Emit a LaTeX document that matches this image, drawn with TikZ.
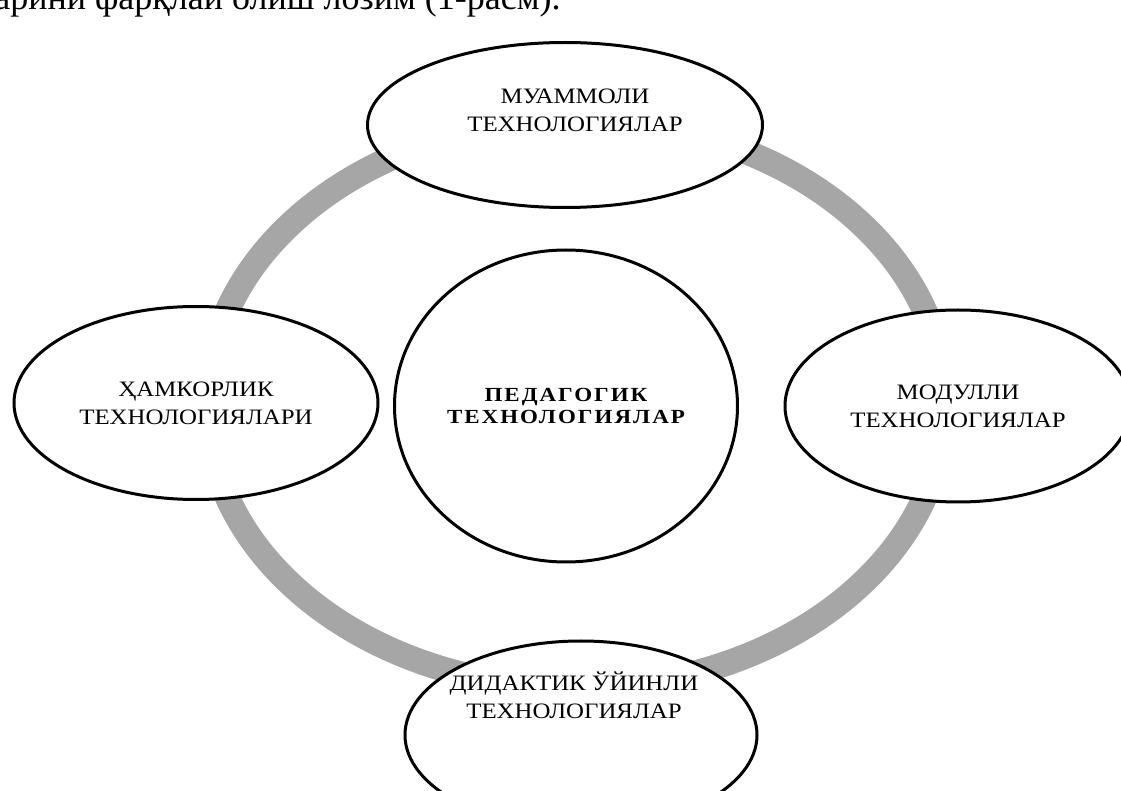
\documentclass[tikz,border=0pt]{standalone}
\usepackage{fontspec}
\setmainfont{Liberation Serif}
\newfontfamily\ovalfont[FakeStretch=1.13]{Liberation Serif}
\newfontfamily\hubfont[FakeStretch=1.15,LetterSpace=10]{Liberation Serif}
\usetikzlibrary{shapes.geometric}
\definecolor{ringgray}{RGB}{166,166,166}

\begin{document}
\begin{tikzpicture}
[
	              x = 0.5pt,
	              y = -0.5pt,
	     oval/.style = { draw=black, line width=1.5pt, fill=white, ellipse, inner sep=0pt, align=center, font=\ovalfont\fontsize{11}{14}\selectfont },
	 ovaltext/.style = { inner sep=0pt, align=center, font=\ovalfont\fontsize{11}{14}\selectfont },
	      hub/.style = { oval, font=\hubfont\bfseries\fontsize{10}{11}\selectfont },
	  toptext/.style = { anchor=base west, inner sep=0pt, font=\fontsize{18}{21}\selectfont }
]
	\useasboundingbox (0,0) rectangle (1121,791);

	% line of running text, cut by the page edge
	\node (T1) at (-6,10) [toptext] {арини фарқлай олиш лозим (1-расм).};

	% ring
	\draw [ringgray, line width=12.5pt] (576,404) ellipse [x radius=184.5pt, y radius=142pt];

	% nodes
	\node (C) at (566,406) [hub, minimum width=171.5pt, minimum height=156pt] {ПЕДАГОГИК\\ТЕХНОЛОГИЯЛАР};
	\node (M) at (565,125) [oval, minimum width=197.5pt, minimum height=82.5pt,
		label={[ovaltext, xshift=5pt, yshift=7.5pt]center:МУАММОЛИ\\ТЕХНОЛОГИЯЛАР}] {};
	\node (H) at (196,403) [oval, minimum width=182pt, minimum height=96.5pt] {ҲАМКОРЛИК\\ТЕХНОЛОГИЯЛАРИ};
	\node (U) at (958,406) [oval, minimum width=173pt, minimum height=96pt] {МОДУЛЛИ\\ТЕХНОЛОГИЯЛАР};
	\node (D) at (581,735) [oval, minimum width=176pt, minimum height=94pt,
		label={[ovaltext, xshift=-3.5pt, yshift=20pt]center:ДИДАКТИК ЎЙИНЛИ\\ТЕХНОЛОГИЯЛАР}] {};
\end{tikzpicture}
\end{document}
